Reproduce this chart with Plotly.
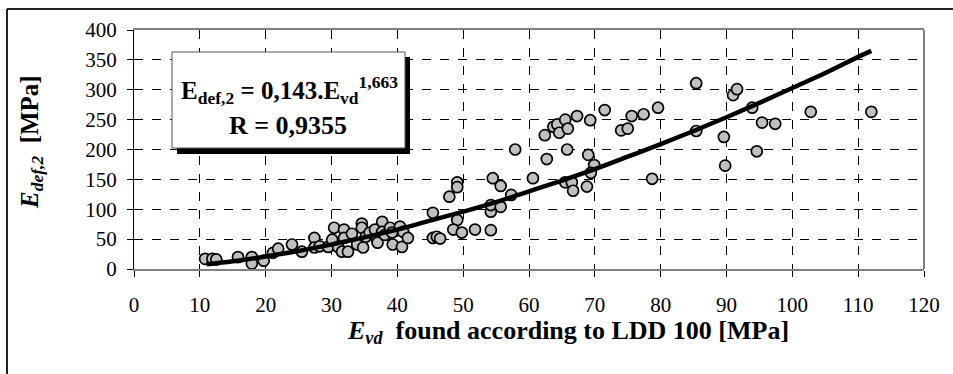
import plotly.graph_objects as go

# Measured points: E_vd (x) and E_def,2 (y)
evd = [10.8, 11.9, 12.5, 15.8, 17.9, 17.9, 19.7, 21.1, 21.9, 24.0, 25.5, 27.4, 27.4, 28.2,
       29.5, 30.1, 30.4, 31.0, 31.6, 31.9, 31.9, 32.5, 33.1, 33.9, 34.6, 34.6, 34.8, 35.2,
       35.8, 36.6, 36.9, 37.0, 37.7, 37.7, 38.1, 38.9, 39.2, 39.3, 40.4, 40.7, 40.9, 41.6,
       45.4, 45.4, 46.0, 46.5, 47.9, 49.1, 49.1, 49.1, 48.5, 49.8, 51.8, 54.2, 54.2, 54.2,
       54.5, 55.7, 55.7, 57.3, 57.9, 60.6, 62.4, 62.7, 63.7, 64.3, 64.6, 65.5, 65.9, 65.8,
       67.3, 69.3, 71.5, 65.5, 66.5, 66.7, 68.8, 69.0, 69.9, 69.4, 74.0, 75.0, 75.6, 77.4,
       79.6, 85.4, 78.7, 85.4, 89.6, 89.8, 91.0, 91.6, 93.9, 94.6, 95.4, 97.4, 102.8, 112.0]
edef2 = [17, 17, 16, 20, 20, 9, 14, 27, 34, 41, 29, 52, 36, 38,
         37, 49, 69, 37, 29, 66, 52, 29, 59, 41, 76, 69, 36, 54,
         61, 66, 49, 44, 79, 62, 57, 69, 61, 41, 71, 37, 62, 52,
         94, 52, 54, 51, 121, 145, 137, 82, 66, 61, 66, 65, 96, 107,
         152, 139, 104, 124, 200, 152, 224, 184, 238, 242, 228, 250, 235, 200,
         256, 249, 266, 145, 145, 131, 138, 191, 174, 161, 232, 235, 256, 259,
         270, 311, 151, 231, 221, 173, 291, 301, 270, 197, 245, 243, 263, 263]

# Trend curve
trend_x = [11, 15, 20, 25, 30, 35, 40, 45, 50, 55, 60, 65, 70, 75, 80, 85, 90, 95, 100, 105, 110, 112]
trend_y = [8, 13, 21, 30, 41, 53, 66, 81, 96, 112, 130, 148, 167, 188, 209, 231, 254, 278, 303, 328, 355, 365]

x_ticks = list(range(0, 121, 10))
y_ticks = list(range(0, 401, 50))

SERIF = "'Liberation Serif', 'Times New Roman', Times, serif"

fig = go.Figure()
fig.add_trace(go.Scatter(
    x=evd, y=edef2, mode="markers",
    marker=dict(size=11, color="#c0c0c0", line=dict(color="black", width=1.7)),
    showlegend=False, cliponaxis=False))
fig.add_trace(go.Scatter(
    x=trend_x, y=trend_y, mode="lines",
    line=dict(color="black", width=4.5, shape="spline"),
    showlegend=False))

W, H = 953, 374
L, R, T, B = 134, 29, 30, 105
pw, ph = W - L - R, H - T - B

def px2x(px):
    return (px - L) / pw

def py2y(py):
    return (H - B - py) / ph

frame = dict(color="#222", width=2)
shapes = [
    # outer frame (left and top edges visible)
    dict(type="line", xref="paper", yref="paper", x0=px2x(7), x1=px2x(7),
         y0=py2y(380), y1=py2y(9), line=frame),
    dict(type="line", xref="paper", yref="paper", x0=px2x(7), x1=px2x(960),
         y0=py2y(9), y1=py2y(9), line=frame),
    # right plot border (gray)
    dict(type="line", xref="paper", yref="paper", x0=1, x1=1, y0=0, y1=1,
         line=dict(color="#808080", width=2)),
    # equation box shadow
    dict(type="rect", xref="paper", yref="paper", x0=px2x(177), x1=px2x(410),
         y0=py2y(154), y1=py2y(57), fillcolor="black", line=dict(width=0)),
    # equation box
    dict(type="rect", xref="paper", yref="paper", x0=px2x(172), x1=px2x(405),
         y0=py2y(148), y1=py2y(52), fillcolor="white", line=dict(color="#555", width=1)),
]

annotations = [
    dict(xref="paper", yref="paper", x=px2x(289), y=py2y(90), showarrow=False,
         text="<b>E<sub>def,2</sub> = 0,143.E<sub>vd</sub><sup>1,663</sup></b>",
         font=dict(family=SERIF, size=25, color="black"), xanchor="center", yanchor="middle"),
    dict(xref="paper", yref="paper", x=px2x(288), y=py2y(125), showarrow=False,
         text="<b>R = 0,9355</b>",
         font=dict(family=SERIF, size=26, color="black"), xanchor="center", yanchor="middle"),
    dict(xref="paper", yref="paper", x=px2x(568), y=py2y(332), showarrow=False,
         text="<b><i>E<sub>vd</sub></i>  found according to LDD 100 [MPa]</b>",
         font=dict(family=SERIF, size=26, color="black"), xanchor="center", yanchor="middle"),
    dict(xref="paper", yref="paper", x=px2x(31), y=py2y(142), showarrow=False, textangle=-90,
         text="<b><i>E<sub>def,2</sub></i>  [MPa]</b>",
         font=dict(family=SERIF, size=25, color="black"), xanchor="center", yanchor="middle"),
]

fig.update_layout(
    width=W, height=H,
    margin=dict(l=L, r=R, t=T, b=B),
    paper_bgcolor="white", plot_bgcolor="white",
    shapes=shapes, annotations=annotations,
    font=dict(family=SERIF, size=21, color="black"),
    xaxis=dict(range=[0, 120], tickvals=x_ticks, ticktext=[str(v) for v in x_ticks],
               showgrid=True, gridcolor="black", griddash="dash", gridwidth=1,
               zeroline=False, showline=True, linecolor="#808080", linewidth=2, mirror=True,
               ticks="outside", ticklen=6, tickcolor="black", tickwidth=1,
               ticklabelstandoff=10, tickfont=dict(family=SERIF, size=21, color="black")),
    yaxis=dict(range=[0, 400], tickvals=y_ticks, ticktext=[str(v) for v in y_ticks],
               showgrid=True, gridcolor="black", griddash="dash", gridwidth=1,
               zeroline=False, showline=True, linecolor="black", linewidth=1,
               ticks="outside", ticklen=6, tickcolor="black", tickwidth=1,
               ticklabelstandoff=6, tickfont=dict(family=SERIF, size=21, color="black")),
)

fig.write_html("out.html", config={"displayModeBar": False},
               post_script="document.body.style.margin='0px';document.body.style.overflow='hidden';")
